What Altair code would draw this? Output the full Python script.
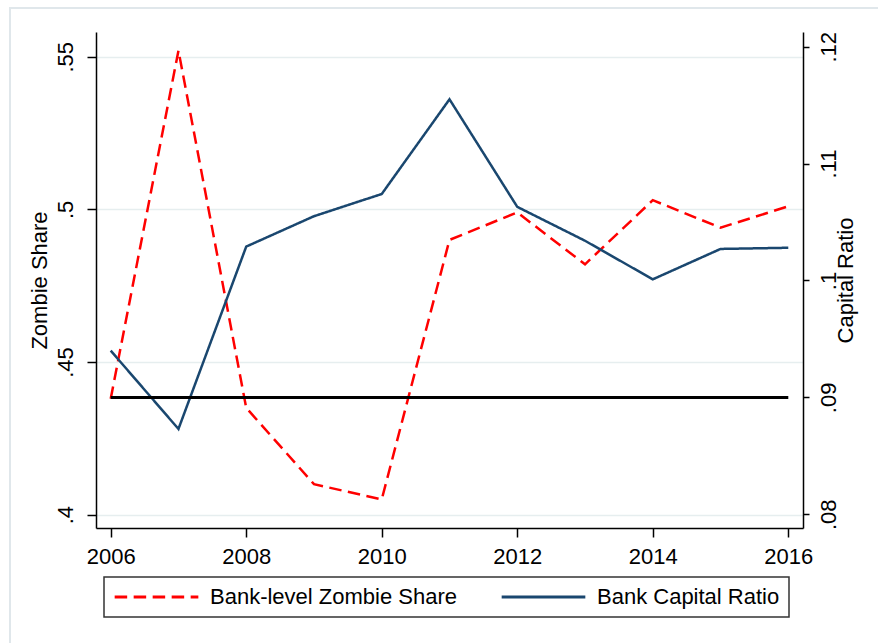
import altair as alt
import pandas as pd

# ---- data ----
years = [2006, 2007, 2008, 2009, 2010, 2011, 2012, 2013, 2014, 2015, 2016]
zombie_share = [0.438, 0.552, 0.435, 0.410, 0.405, 0.490, 0.499, 0.482, 0.503, 0.494, 0.501]
capital_ratio = [0.0940, 0.0873, 0.1029, 0.1055, 0.1074, 0.1155, 0.1063, 0.1034, 0.1001, 0.1027, 0.1028]
series_names = ["Bank-level Zombie Share", "Bank Capital Ratio"]
x_ticks = [2006, 2008, 2010, 2012, 2014, 2016]
left_ticks = [0.4, 0.45, 0.5, 0.55]
right_ticks = [0.08, 0.09, 0.10, 0.11, 0.12]
ref_start = [2006]
ref_end = [2016]
ref_value = [0.09]

FONT = "Liberation Sans"
RED = "#ff0000"
NAVY = "#1a476f"

zdf = pd.DataFrame({"year": years, "value": zombie_share, "series": series_names[0]})
cdf = pd.DataFrame({"year": years, "value": capital_ratio, "series": series_names[1]})
rdf = pd.DataFrame({"start": ref_start, "end": ref_end, "value": ref_value})
frame_df = pd.DataFrame({"k": [0]})

x_scale = alt.Scale(domain=[2005.783, 2016.217], nice=False, zero=False)
left_scale = alt.Scale(domain=[0.39564, 0.55809], nice=False, zero=False)
right_scale = alt.Scale(domain=[0.078828, 0.121257], nice=False, zero=False)

x_axis = alt.Axis(values=x_ticks, format="d", tickSize=9, labelPadding=9, grid=False)

label_expr = "substring(format(datum.value, '.2~f'), 1)"

left_axis = alt.Axis(
    values=left_ticks, labelExpr=label_expr, labelAngle=270, labelAlign="center",
    labelBaseline="alphabetic", tickSize=9, labelPadding=15, grid=True,
    gridColor="#e6eeef", gridWidth=1.5, titleAngle=270, titleAlign="center",
    titleBaseline="alphabetic", titleX=-50, titleY=248,
)
right_axis = alt.Axis(
    orient="right", values=right_ticks, labelExpr=label_expr, labelAngle=270,
    labelAlign="center", labelBaseline="top", tickSize=6, labelPadding=9, grid=False,
    titleAngle=270, titleAlign="center", titleBaseline="alphabetic", titleX=49, titleY=248,
)

legend = alt.Legend(
    title=None, orient="none", legendX=8, legendY=545, direction="horizontal",
    symbolType="stroke", symbolSize=7000, symbolStrokeWidth=3, labelFontSize=22,
    labelFont=FONT, labelColor="black", labelOffset=10, columnPadding=42, padding=9,
    strokeColor="#333333", clipHeight=22, labelLimit=400,
)

color_enc = alt.Color("series:N", scale=alt.Scale(domain=series_names, range=[RED, NAVY]), legend=legend)
dash_enc = alt.StrokeDash("series:N", scale=alt.Scale(domain=series_names, range=[[12.5, 6.5], [1, 0]]), legend=legend)

frame = alt.Chart(frame_df).mark_rect(fillOpacity=0, stroke="#e0e7eb", strokeWidth=2).encode(
    x=alt.value(-86), x2=alt.value(900), y=alt.value(-24), y2=alt.value(700)
)

zombie = alt.Chart(zdf).mark_line(strokeWidth=2.5).encode(
    x=alt.X("year:Q", scale=x_scale, axis=x_axis, title=None),
    y=alt.Y("value:Q", scale=left_scale, axis=left_axis, title="Zombie Share"),
    color=color_enc,
    strokeDash=dash_enc,
)

capital = alt.Chart(cdf).mark_line(strokeWidth=2.5).encode(
    x=alt.X("year:Q", scale=x_scale, axis=x_axis, title=None),
    y=alt.Y("value:Q", scale=right_scale, axis=right_axis, title="Capital Ratio"),
    color=color_enc,
    strokeDash=dash_enc,
)

rule = alt.Chart(rdf).mark_rule(color="black", strokeWidth=3).encode(
    x=alt.X("start:Q", scale=x_scale, axis=x_axis, title=None),
    x2="end:Q",
    y=alt.Y("value:Q", scale=right_scale, axis=right_axis, title="Capital Ratio"),
)

chart = (
    alt.layer(frame, zombie, alt.layer(capital, rule))
    .resolve_scale(y="independent")
    .properties(
        width=707, height=496,
        autosize=alt.AutoSizeParams(type="none"),
        padding={"left": 96, "top": 32, "right": 75, "bottom": 115},
        background="white",
    )
    .configure_view(stroke="transparent")
    .configure_axis(
        labelFont=FONT, titleFont=FONT, labelFontSize=22, titleFontSize=22,
        labelColor="black", titleColor="black", titleFontWeight="normal",
        domainColor="black", tickColor="black", domainWidth=1.5, tickWidth=1.5,
    )
    .configure_legend(strokeWidth=1.5)
)

chart.save("out.html", embed_options={"renderer": "svg", "actions": False})
